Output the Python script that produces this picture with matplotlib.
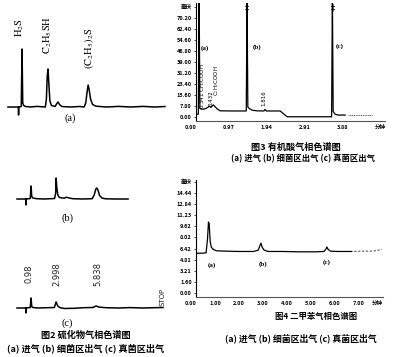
import matplotlib
matplotlib.use('Agg')
import matplotlib.pyplot as plt
from matplotlib.transforms import ScaledTranslation

plt.rcParams['font.family'] = ['Noto Sans CJK SC', 'DejaVu Sans']
plt.rcParams['mathtext.fontset'] = 'stix'

# ---- Fig 2: sulphide chromatograms (a) inlet, (b) bacteria, (c) fungi ----
s_a_t = [-0.07, 0.62, 0.70, 0.72, 0.74, 0.92, 0.98, 1.03, 1.10, 1.25, 1.60, 2.10,
         2.72, 2.80, 2.86, 2.92, 2.98, 3.06, 3.18, 3.45, 3.58, 3.67, 3.78, 3.95,
         4.60, 5.30, 5.62, 5.74, 5.84, 5.92, 6.00, 6.10, 6.25, 6.50, 7.30, 8.20,
         9.10, 10.00, 10.90, 11.66]
s_a_v = [0, 0, 0, -8, 0, 0.5, 58, 4, 1.5, 0.5, 0, 0.6,
         0, 8, 30, 38, 24, 6, 1.5, 0.5, 3.5, 5, 2.5, 0.5,
         0, 0.5, 0, 4, 15, 22, 17, 8, 2.5, 0.8, 0, 0.6,
         0, 0.6, 0, 0.5]

s_b_t = [-0.07, 0.55, 0.58, 0.60, 0.62, 0.92, 0.98, 1.03, 1.12, 1.40, 2.00,
         2.74, 2.82, 2.85, 2.90, 2.98, 3.10, 3.45, 3.62, 3.70, 3.82, 4.10, 4.80,
         5.55, 5.70, 5.82, 5.91, 6.00, 6.10, 6.28, 6.55, 7.20, 8.23]
s_b_v = [0, 0, 0, -6, 0, 0.5, 13, 2.5, 1, 0.3, 0,
         0.5, 6, 21, 12, 4, 1.5, 0.8, 1.8, 1.5, 1, 0.3, 0,
         0.3, 4, 10, 11, 8, 3.5, 1, 0.2, 0, 0]

s_c_t = [-0.07, 0.55, 0.58, 0.60, 0.62, 0.92, 0.98, 1.03, 1.12, 1.50, 2.20,
         2.72, 2.85, 2.98, 3.15, 3.50, 4.20, 4.90, 5.60, 5.84, 6.10, 6.60,
         7.50, 8.40, 9.30, 10.20, 10.84]
s_c_v = [0, 0, 0, -5, 0, 0.5, 10, 1.5, 0.5, 0, 0.3,
         0.5, 6, 2, 0.3, -0.5, -0.3, 0.3, 0.5, 2, 0.8, 0.3,
         0, 0.4, 0, 0.3, 0.5]

s_peak_names = [r'$\mathrm{H_2S}$', r'$\mathrm{C_2H_5SH}$', r'$\mathrm{(C_2H_5)_2S}$']
s_c_times = ['0.98', '2.998', '5.838']

# ---- Fig 3: organic acids ----
acid_t = [0.00, 0.06, 0.08, 0.10, 0.16, 0.25, 0.31, 0.34, 0.38, 0.44, 0.48, 0.55,
          0.62, 1.00, 1.29, 1.31, 1.33, 1.37, 1.45, 1.57, 1.74, 1.77, 1.80, 1.95,
          2.16, 2.34, 3.00, 3.48, 3.50, 3.52, 3.57, 3.65, 3.83]
acid_v = [2.0, 2.0, 86, 6.0, 5.5, 6.0, 7.0, 7.8, 6.8, 8.6, 7.6, 5.6,
          4.4, 4.3, 4.3, 86, 7.2, 6.0, 4.8, 4.4, 4.3, 5.4, 4.3, 4.3,
          4.3, 0.2, 0.2, 0.2, 86, 4.0, 2.0, 1.4, 1.4]
acid_tail_t = [3.91, 4.20, 4.52]
acid_tail_v = [1.4, 1.4, 1.4]
acid_yticks = [0, 7.8, 15.6, 23.4, 31.2, 39.0, 46.8, 54.6, 62.4, 70.2, 78.0]
acid_ylabels = ['0.00', '7.80', '15.60', '23.40', '31.20', '39.00', '46.80',
                '54.60', '62.40', '70.20', '毫伏']
acid_xticks = [0, 0.97, 1.94, 2.91, 3.88, 4.85]
acid_xlabels = ['0.00', '0.97', '1.94', '2.91', '3.88', '分钟']

# ---- Fig 4: xylene ----
xyl_t = [0.00, 0.25, 0.42, 0.48, 0.52, 0.55, 0.59, 0.64, 0.72, 0.85, 1.20, 1.80,
         2.40, 2.60, 2.66, 2.71, 2.76, 2.84, 3.00, 3.60, 4.30, 5.00, 5.34, 5.42,
         5.46, 5.51, 5.61, 5.90, 6.50]
xyl_v = [5.75, 5.75, 5.8, 7.8, 10.26, 10.0, 7.5, 6.6, 6.3, 6.1, 6.05, 6.0,
         6.0, 6.2, 6.8, 7.2, 6.6, 6.2, 6.0, 6.0, 5.95, 5.95, 6.0, 6.35,
         6.65, 6.3, 6.05, 6.0, 6.0]
xyl_tail_t = [6.6, 7.0, 7.4, 7.75]
xyl_tail_v = [6.0, 6.05, 6.05, 6.3]
xyl_yticks = [0, 1.60, 3.21, 4.81, 6.42, 8.02, 9.62, 11.23, 12.84, 14.44, 16.04]
xyl_ylabels = ['0.00', '1.60', '3.21', '4.81', '6.42', '8.02', '9.62', '11.23',
               '12.84', '14.44', '毫伏']
xyl_xticks = [0, 1, 2, 3, 4, 5, 6, 7]
xyl_xlabels = ['0.00', '1.00', '2.00', '3.00', '4.00', '5.00', '6.00', '7.00']

sample_tags = ['(a)', '(b)', '(c)']
legend_line = '(a) 进气 (b) 细菌区出气 (c) 真菌区出气'

W, H = 400, 357
fig = plt.figure(figsize=(4, 3.57), dpi=100)


def px_box(left, top, right, bottom):
    return [left / W, 1 - bottom / H, (right - left) / W, (bottom - top) / H]


def px_text(x, y, s, **kw):
    fig.text(x / W, 1 - y / H, s, ha='center', va='center', **kw)


serif = dict(family='Liberation Serif')

# left column, no axes drawn
ax_a = fig.add_axes(px_box(6, 15, 169.5, 125))
ax_b = fig.add_axes(px_box(15, 173, 178.5, 225))
ax_c = fig.add_axes(px_box(15, 255, 178.5, 318))
for ax, t, v, yl in [(ax_a, s_a_t, s_a_v, (-18, 92)),
                     (ax_b, s_b_t, s_b_v, (-26, 26)),
                     (ax_c, s_c_t, s_c_v, (-10, 53))]:
    ax.plot(t, v, color='black', lw=1.1)
    ax.set_xlim(-0.22, 12.0)
    ax.set_ylim(*yl)
    ax.axis('off')

ax_a.text(0.83, 79, s_peak_names[0], rotation=90, ha='center', va='center', fontsize=7.5)
ax_a.text(2.88, 72, s_peak_names[1], rotation=90, ha='center', va='center', fontsize=7.5)
ax_a.text(5.99, 59, s_peak_names[2], rotation=90, ha='center', va='center', fontsize=7.5)
ax_a.text(4.57, -11, sample_tags[0], ha='center', va='center', fontsize=7.5, **serif)
ax_b.text(3.67, -19, sample_tags[1], ha='center', va='center', fontsize=7.5, **serif)
for tx, lab in zip([0.85, 2.92, 5.98], s_c_times):
    ax_c.text(tx, 34, lab, rotation=90, ha='center', va='center', fontsize=6,
              family='DejaVu Sans', color='#222222')
ax_c.text(10.84, 11, 'STOP', rotation=90, ha='center', va='center', fontsize=5,
          family='DejaVu Sans', color='#222222')

px_text(67, 323, sample_tags[2], fontsize=7.5, **serif)
px_text(86, 335, '图2 硫化物气相色谱图', fontsize=6.6, fontweight='bold')
px_text(86, 348, legend_line, fontsize=6.6, fontweight='bold')

# chromatogram panels with axes
shift = ScaledTranslation(-5 / 100, 0, fig.dpi_scale_trans)


def style_axis(ax, xt, xl, yt, yl):
    ax.set_xticks(xt)
    ax.set_xticklabels(xl)
    ax.set_yticks(yt)
    ax.set_yticklabels(yl)
    for s in ['top', 'right']:
        ax.spines[s].set_visible(False)
    ax.spines['left'].set_linewidth(0.8)
    ax.spines['bottom'].set_linewidth(0.8)
    ax.spines['bottom'].set_color('#555555')
    ax.spines['bottom'].set_linestyle((0, (2, 1)))
    ax.tick_params(axis='y', length=1.5, width=0.5, pad=1.5, labelsize=4)
    ax.tick_params(axis='x', length=0, pad=3, labelsize=4)
    for lbl in ax.get_xticklabels() + ax.get_yticklabels():
        lbl.set_fontweight('bold')
    for lbl in ax.get_xticklabels():
        lbl.set_transform(lbl.get_transform() + shift)


ax3 = fig.add_axes(px_box(196, 3, 385, 121))
ax3.plot(acid_t, acid_v, color='black', lw=0.9)
ax3.plot(acid_tail_t, acid_tail_v, color='#666666', lw=0.8, ls=(0, (1, 0.6)))
ax3.set_xlim(0, 4.85)
ax3.set_ylim(-2.8, 80.8)
style_axis(ax3, acid_xticks, acid_xlabels, acid_yticks, acid_ylabels)
for tx in [1.31, 3.50]:
    ax3.text(tx, 80.5, '‡', ha='center', va='top', fontsize=6, family='DejaVu Sans')
ax3.text(0.23, 48.9, sample_tags[0], ha='center', va='center', fontsize=5, fontweight='bold', **serif)
ax3.text(1.57, 49.6, sample_tags[1], ha='center', va='center', fontsize=5, fontweight='bold', **serif)
ax3.text(3.70, 50.3, sample_tags[2], ha='center', va='center', fontsize=5, fontweight='bold', **serif)
ax3.text(0.18, 22, r'0.341 CH$_3$COOH', rotation=90, ha='center', va='center',
         fontsize=4, family='DejaVu Sans')
ax3.text(0.39, 13.5, '0.432', rotation=90, ha='center', va='center',
         fontsize=4, family='DejaVu Sans')
ax3.text(0.54, 26, r'C$_2$H$_5$COOH', rotation=90, ha='center', va='center',
         fontsize=4, family='DejaVu Sans')
ax3.text(1.75, 13.5, '1.816', rotation=90, ha='center', va='center',
         fontsize=4, family='DejaVu Sans')
px_text(296, 147, '图3 有机酸气相色谱图', fontsize=6.6, fontweight='bold')
px_text(303, 159, legend_line, fontsize=6, fontweight='bold')

ax4 = fig.add_axes(px_box(196, 180, 383, 297))
ax4.plot(xyl_t, xyl_v, color='black', lw=0.9)
ax4.plot(xyl_tail_t, xyl_tail_v, color='#555555', lw=0.8, ls=(0, (2, 1.5)))
ax4.set_xlim(0, 7.8)
ax4.set_ylim(-0.58, 16.33)
style_axis(ax4, xyl_xticks, xyl_xlabels, xyl_yticks, xyl_ylabels)
ax4.text(0.97, -0.035, '分钟', transform=ax4.transAxes, ha='center', va='top',
         fontsize=4, fontweight='bold')
ax4.text(0.67, 4.0, sample_tags[0], ha='center', va='center', fontsize=5, fontweight='bold', **serif)
ax4.text(2.79, 4.2, sample_tags[1], ha='center', va='center', fontsize=5, fontweight='bold', **serif)
ax4.text(5.46, 4.5, sample_tags[2], ha='center', va='center', fontsize=5, fontweight='bold', **serif)
px_text(316, 316, '图4 二甲苯气相色谱图', fontsize=6, fontweight='bold')
px_text(301, 338, legend_line, fontsize=6.4, fontweight='bold')

fig.savefig('out.png', dpi=100)
